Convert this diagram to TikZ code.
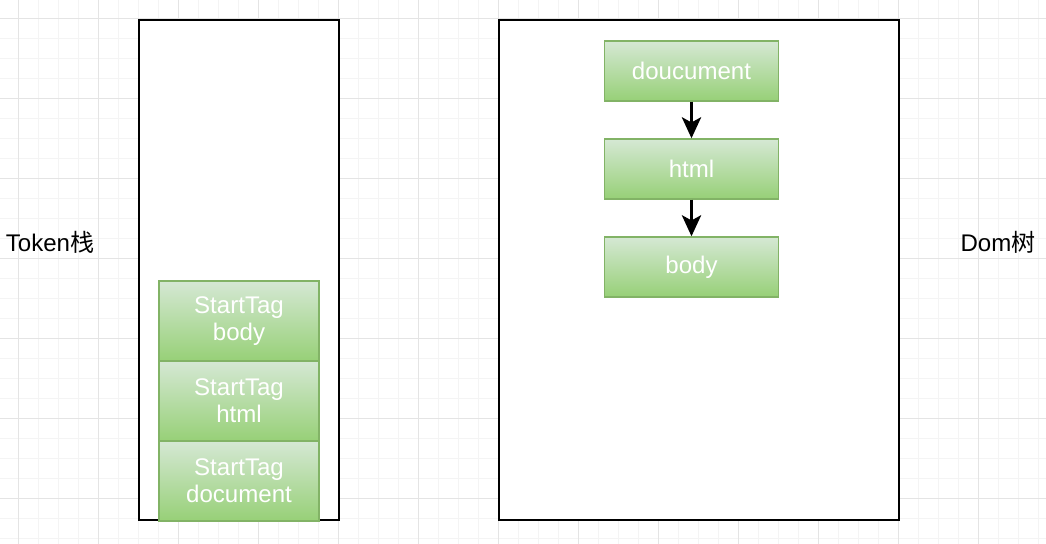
\documentclass[tikz,border=0pt]{standalone}
\usepackage{fontspec}
\setmainfont{Liberation Sans}
\newfontfamily\cjkfont{Noto Sans CJK SC}
\usetikzlibrary{positioning,arrows.meta}
\definecolor{tagtop}{RGB}{213,232,212}
\definecolor{tagbot}{RGB}{151,208,119}
\definecolor{tagline}{RGB}{130,179,102}
\definecolor{minorgrid}{RGB}{244,244,244}
\definecolor{majorgrid}{RGB}{228,228,228}
\begin{document}
\begin{tikzpicture}[x=0.02cm,y=-0.02cm,on grid,
		tag/.style={draw=tagline,line width=0.8pt,top color=tagtop,bottom color=tagbot,
			text=white,font=\fontsize{13.7}{15.4}\selectfont,align=center,inner sep=0pt},
		stackbox/.style={tag,minimum width=3.2cm,minimum height=1.6cm},
		treebox/.style={tag,minimum width=3.48cm,minimum height=1.2cm},
		frame/.style={draw=black,line width=1.1pt,fill=white},
		label/.style={font=\fontsize{13.7}{15.4}\selectfont,inner sep=0pt}]
	\useasboundingbox (0,0) rectangle (1046,544);
	% background grid
	\foreach \gx in {-2,18,...,1046}
		\draw[minorgrid,line width=0.5pt] (\gx,0) -- (\gx,544);
	\foreach \gy in {-2,18,...,544}
		\draw[minorgrid,line width=0.5pt] (0,\gy) -- (1046,\gy);
	\foreach \gx in {18,98,...,1046}
		\draw[majorgrid,line width=0.5pt] (\gx,0) -- (\gx,544);
	\foreach \gy in {18,98,...,544}
		\draw[majorgrid,line width=0.5pt] (0,\gy) -- (1046,\gy);
	% frames
	\draw[frame] (139,20) rectangle (339,520);
	\draw[frame] (499,20) rectangle (899,520);
	% token stack
	\node[stackbox](sdoc) at (239,481) {StartTag\\document};
	\node[stackbox](shtml)[above=1.6cm of sdoc] {StartTag\\html};
	\node[stackbox](sbody)[above=1.6cm of shtml] {StartTag\\body};
	% dom tree
	\node[treebox](tdoc) at (691.5,71) {doucument};
	\node[treebox](thtml)[below=1.96cm of tdoc] {html};
	\node[treebox](tbody)[below=1.96cm of thtml] {body};
	\path[-{Stealth[length=12pt,width=11pt,inset=3pt]},line width=1.4pt]
		(tdoc) edge (thtml)
		(thtml) edge (tbody);
	% captions
	\node[label](tokenlbl) at (50,242) {Token{\cjkfont 栈}};
	\node[label](domlbl) at (998,242) {Dom{\cjkfont 树}};
\end{tikzpicture}
\end{document}
